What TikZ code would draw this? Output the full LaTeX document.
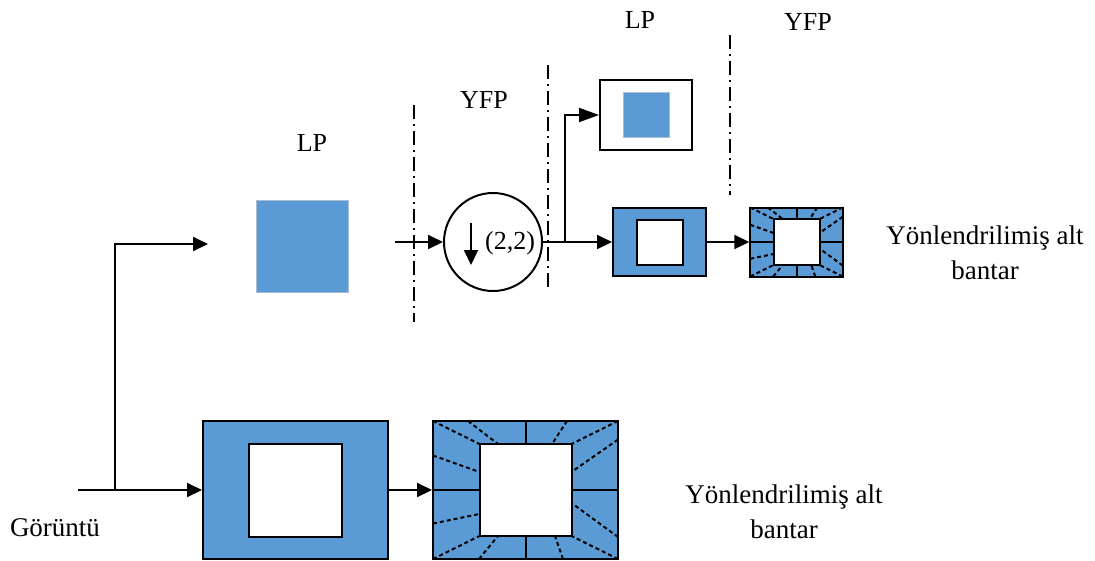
\documentclass[tikz,border=0pt]{standalone}
\usepackage{fontspec}
\setmainfont{Liberation Serif}
\usetikzlibrary{arrows.meta, positioning, calc}

\definecolor{bandblue}{HTML}{5B9BD5}
\definecolor{softedge}{HTML}{A9BCD0}

% split lines and dashed rays of a subband box, drawn round a node
\newcommand{\bandlines}[2]{%
  \begin{scope}[shift={(#1.center)}, scale=#2]
    \draw[split] (0,-69) -- (0,-46) (0,46) -- (0,69)
      (-92.5,0) -- (-46,0) (46,0) -- (92.5,0);
    \draw[ray] (-92.5,-69) -- (-46,-46) (-57.5,-69) -- (-27.5,-46) (-92.5,-34.5) -- (-46,-18);
    \draw[ray] (92.5,-69) -- (46,-46) (41.5,-69) -- (26.5,-46) (92.5,-50.5) -- (46,-18);
    \draw[ray] (92.5,69) -- (46,46) (37.5,69) -- (29.5,46) (92.5,47) -- (46,13);
    \draw[ray] (-92.5,69) -- (-46,46) (-46.5,69) -- (-27.5,46) (-92.5,33.5) -- (-46,24);
  \end{scope}}

\begin{document}
\begin{tikzpicture}[
  x=1pt, y=-1pt,
  every node/.style={font=\fontsize{27}{35}\selectfont},
  stage/.style={font=\fontsize{26}{30}\selectfont},
  band/.style={rectangle, draw=black, fill=bandblue, line width=2pt, inner sep=0pt},
  hole/.style={rectangle, draw=black, fill=white, line width=2pt, inner sep=0pt},
  lowpass/.style={rectangle, draw=softedge, fill=bandblue, line width=1pt, inner sep=0pt},
  split/.style={line width=2pt},
  ray/.style={line width=2pt, dash pattern=on 4pt off 3pt},
  arrow/.style={-{Triangle[length=15pt, width=14pt]}, line width=2pt},
  divider/.style={line width=2pt, dash pattern=on 14pt off 5pt on 2pt off 5pt},
]
\useasboundingbox (0,0) rectangle (1095,560);

% First level
\node[band, minimum width=185pt, minimum height=138pt] (big) at (295.5,490) {};
\node[hole, minimum size=93pt] (bighole) at (big) {};
\node[band, minimum width=185pt, minimum height=138pt] (bigband) at (525.5,490) {};
\node[hole, minimum size=92pt] (bigbandhole) at (bigband) {};
\bandlines{bigband}{1}

\node[lowpass, minimum size=92pt] (lp) at (302,246) {};
\node[stage] (lplabel) at (312,143) {LP};

% Second level
\node[circle, draw, line width=2pt, minimum size=98pt, inner sep=0pt] (ds) at (493,242) {};
\node[stage] (ratio) at (510,243) {(2,2)};
\draw[arrow] ([xshift=-22pt, yshift=19pt]ds.center) -- ++(0,42);
\node[stage] (yfplabel) at (484,100) {YFP};

\node[band, minimum width=93pt, minimum height=68pt] (sbox) at (659.5,242) {};
\node[hole, minimum width=46pt, minimum height=45pt] (sboxhole) at (sbox) {};
\node[band, minimum width=92.5pt, minimum height=69pt] (sband) at (796.5,242) {};
\node[hole, minimum size=46pt] (sbandhole) at (sband) {};
\bandlines{sband}{0.5}

\node[rectangle, draw=black, fill=white, line width=2pt, minimum width=92pt, minimum height=70pt] (lp2) at (646,115) {};
\node[lowpass, minimum width=46pt, minimum height=45pt] (lp2in) at (lp2) {};
\node[stage] (lp2label) at (640,20) {LP};
\node[stage] (yfp2label) at (808,22) {YFP};

% Outputs
\node[align=center] (out1) at (985,253) {Yönlendrilimiş alt\\bantar};
\node[align=center] (out2) at (784,512) {Yönlendrilimiş alt\\bantar};
\node (img) at (55,528) {Görüntü};

% Dividers
\draw[divider] (414,105) -- (414,322);
\draw[divider] (548,65) -- (548,290);
\draw[divider] (730,35) -- (730,195);

% Data flows
\coordinate (in) at (78,490);
\coordinate (fork) at (115,490);
\coordinate (lpin) at (208,244);
\coordinate (yfpin) at (395,242);
\coordinate (branch) at (565,242);

\draw[arrow] (in) -- (big);
\draw[arrow] (fork) |- (lpin);
\draw[arrow] (big) -- (bigband);
\draw[arrow] (yfpin) -- (ds);
\draw[arrow] (ds) -- (sbox);
\draw[arrow, -{Triangle[length=20pt, width=14pt]}] (branch) |- (lp2);
\draw[arrow] (sbox) -- (sband);

\end{tikzpicture}
\end{document}
